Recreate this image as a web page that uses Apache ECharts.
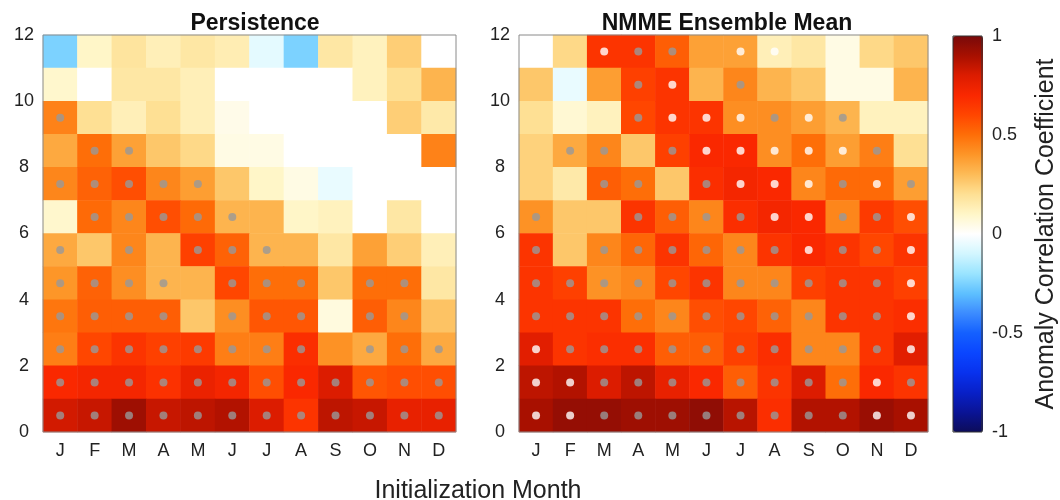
<!DOCTYPE html>
<html>
<head>
<meta charset="utf-8">
<script src="https://cdn.jsdelivr.net/npm/echarts@6/dist/echarts.min.js"></script>
<style>
html,body{margin:0;padding:0;background:#fff;}
#chart{width:1060px;height:500px;}
</style>
</head>
<body>
<div id="chart"></div>
<script>
// Initialization months (x categories)
const months = ['J','F','M','A','M','J','J','A','S','O','N','D'];
// Lead rows (y), 0..11 ; tick labels on the lead axis
const leadTicks = [0, 2, 4, 6, 8, 10, 12];
const colorbarTicks = [-1, -0.5, 0, 0.5, 1];

// Persistence ACC, rows listed from lead 11 (top) down to lead 0 (bottom)
const persistenceRows = [
  [-0.25, 0.10, 0.18, 0.13, 0.17, 0.14, -0.06, -0.25, 0.17, 0.12, 0.25, 0.00],
  [ 0.09, 0.00, 0.17, 0.17, 0.13, 0.00,  0.00,  0.00, 0.00, 0.12, 0.20, 0.32],
  [ 0.45, 0.20, 0.13, 0.20, 0.13, 0.04,  0.00,  0.00, 0.00, 0.00, 0.25, 0.16],
  [ 0.35, 0.50, 0.37, 0.27, 0.22, 0.05,  0.05,  0.00, 0.00, 0.00, 0.00, 0.45],
  [ 0.44, 0.53, 0.58, 0.44, 0.38, 0.27,  0.10,  0.05,-0.05, 0.00, 0.00, 0.00],
  [ 0.09, 0.51, 0.44, 0.58, 0.51, 0.32,  0.32,  0.10, 0.12, 0.00, 0.17, 0.00],
  [ 0.35, 0.27, 0.44, 0.32, 0.62, 0.53,  0.32,  0.32, 0.17, 0.37, 0.25, 0.13],
  [ 0.40, 0.53, 0.42, 0.32, 0.32, 0.60,  0.50,  0.50, 0.27, 0.50, 0.50, 0.17],
  [ 0.48, 0.54, 0.54, 0.54, 0.27, 0.42,  0.56,  0.56, 0.06, 0.54, 0.44, 0.28],
  [ 0.46, 0.60, 0.66, 0.62, 0.64, 0.46,  0.46,  0.68, 0.41, 0.35, 0.50, 0.35],
  [ 0.70, 0.72, 0.72, 0.67, 0.75, 0.72,  0.58,  0.70, 0.80, 0.56, 0.58, 0.58],
  [ 0.82, 0.84, 0.92, 0.84, 0.86, 0.88,  0.80,  0.66, 0.86, 0.84, 0.76, 0.76]
];
// Significance markers: g = gray dot, w = white dot, . = none (lead 11 -> 0)
const persistenceDots = [
  '............',
  '............',
  'g...........',
  '.gg.........',
  'ggggg.......',
  '.ggggg......',
  'g.g.ggg.....',
  'gggg.ggg.gg.',
  'gggg.ggg.gg.',
  'gggggggg.ggg',
  'gggggggggggg',
  'gggggggggggg'
];

// NMME ensemble mean ACC, rows from lead 11 (top) down to lead 0
const nmmeRows = [
  [0.00, 0.22, 0.66, 0.66, 0.54, 0.37, 0.37, 0.13, 0.17, 0.05, 0.22, 0.27],
  [0.27,-0.05, 0.38, 0.62, 0.66, 0.32, 0.44, 0.32, 0.27, 0.05, 0.05, 0.32],
  [0.20, 0.08, 0.12, 0.60, 0.66, 0.66, 0.42, 0.42, 0.38, 0.32, 0.12, 0.12],
  [0.24, 0.35, 0.44, 0.27, 0.62, 0.70, 0.70, 0.42, 0.50, 0.38, 0.46, 0.20],
  [0.24, 0.16, 0.54, 0.50, 0.27, 0.68, 0.72, 0.70, 0.44, 0.51, 0.51, 0.38],
  [0.41, 0.27, 0.27, 0.66, 0.54, 0.44, 0.68, 0.72, 0.70, 0.44, 0.64, 0.58],
  [0.66, 0.27, 0.44, 0.52, 0.66, 0.52, 0.44, 0.66, 0.70, 0.66, 0.60, 0.66],
  [0.66, 0.62, 0.41, 0.44, 0.60, 0.66, 0.44, 0.44, 0.62, 0.66, 0.66, 0.62],
  [0.66, 0.66, 0.66, 0.50, 0.44, 0.58, 0.60, 0.53, 0.44, 0.66, 0.66, 0.68],
  [0.78, 0.66, 0.68, 0.68, 0.54, 0.54, 0.62, 0.68, 0.44, 0.44, 0.66, 0.78],
  [0.86, 0.88, 0.80, 0.86, 0.76, 0.70, 0.54, 0.66, 0.80, 0.50, 0.70, 0.66],
  [0.90, 0.94, 0.94, 0.92, 0.92, 0.95, 0.87, 0.68, 0.88, 0.88, 0.93, 0.90]
];
const nmmeDots = [
  '..wgg.ww....',
  '...gw.g.....',
  '...gwwwgwg..',
  '.gg.gwwwwwg.',
  '..gg.gwwwgwg',
  'g..ggggwwggw',
  'g.ggggggwggw',
  'gggggggggggw',
  'gggggggggggw',
  'wggggggggggw',
  'wwggggggggwg',
  'wwggggggggww'
];

const leadCats = Array.from({length: 12}, (_, i) => String(i));

function toCells(rows) {
  const out = [];
  rows.forEach((r, i) => {
    const lead = rows.length - 1 - i;
    r.forEach((v, c) => out.push([c, lead, v]));
  });
  return out;
}
function toDots(rows, ch) {
  const out = [];
  rows.forEach((s, i) => {
    const lead = rows.length - 1 - i;
    for (let c = 0; c < s.length; c++) if (s[c] === ch) out.push([c, lead]);
  });
  return out;
}

const FONT = '"Liberation Sans", Arial, Helvetica, sans-serif';
const txt = '#222';

const catX = (gi) => ({
  type: 'category', gridIndex: gi, data: months,
  axisLine: {show: false}, axisTick: {show: false}, splitLine: {show: false},
  axisLabel: {fontSize: 18, color: txt, fontFamily: FONT, margin: 10}
});
const catY = (gi) => ({
  type: 'category', gridIndex: gi, data: leadCats, show: false
});
const valY = (gi) => ({
  type: 'value', gridIndex: gi, min: 0, max: 12, interval: 2, position: 'left',
  axisLine: {show: false}, axisTick: {show: false}, splitLine: {show: false},
  axisLabel: {fontSize: 18, color: txt, fontFamily: FONT, margin: 19, align: 'center',
    formatter: (v) => leadTicks.indexOf(v) >= 0 ? String(v) : ''}
});

const gridStyle = {show: true, z: 10, backgroundColor: 'transparent', borderColor: '#8a8a8a', borderWidth: 1};

const option = {
  animation: false,
  backgroundColor: '#fff',
  textStyle: {fontFamily: FONT},
  title: [
    {text: 'Persistence', left: 250, top: 7, textAlign: 'center',
     textStyle: {fontSize: 23, fontWeight: 'bold', color: '#111', fontFamily: FONT}},
    {text: 'NMME Ensemble Mean', left: 722, top: 7, textAlign: 'center',
     textStyle: {fontSize: 23, fontWeight: 'bold', color: '#111', fontFamily: FONT}},
    {text: 'Initialization Month', left: 473, top: 474, textAlign: 'center',
     textStyle: {fontSize: 25, fontWeight: 'normal', color: txt, fontFamily: FONT}}
  ],
  grid: [
    Object.assign({left: 43, top: 35, width: 413, height: 397}, gridStyle),
    Object.assign({left: 519, top: 35, width: 409, height: 397}, gridStyle),
    Object.assign({left: 953, top: 36, width: 30, height: 396}, gridStyle, {borderColor: '#333'})
  ],
  xAxis: [
    catX(0), catX(1),
    {type: 'value', gridIndex: 2, min: 0, max: 1, show: false}
  ],
  yAxis: [
    catY(0), valY(0), catY(1), valY(1),
    {type: 'value', gridIndex: 2, min: -1, max: 1, interval: 0.5, position: 'right',
     axisLine: {show: false}, splitLine: {show: false},
     axisTick: {show: false},
     axisLabel: {fontSize: 18, color: txt, fontFamily: FONT, margin: 10,
       formatter: (v) => colorbarTicks.indexOf(v) >= 0 ? String(v) : ''},
     name: 'Anomaly Correlation Coefficient', nameLocation: 'middle', nameRotate: 90, nameGap: 52,
     nameTextStyle: {fontSize: 25, color: txt, fontFamily: FONT}}
  ],
  visualMap: {
    type: 'continuous', min: -1, max: 1, seriesIndex: [0, 1], dimension: 2,
    calculable: false, left: 953, top: 36, itemWidth: 30, itemHeight: 396,
    padding: 0, text: null, showLabel: false, hoverLink: false,
    inRange: {color: [
      '#0c0c5a', '#0a1496', '#0820c8', '#0832ee', '#0a46ff', '#1460ff',
      '#3c8cff', '#5ec0ff', '#9ae4ff', '#d2f6ff', '#ffffff',
      '#fff6c8', '#fee094', '#fdbc58', '#fd9628', '#fe6e08',
      '#ff4600', '#fa2800', '#dc1c00', '#a81000', '#780a0a'
    ]}
  },
  series: [
    {type: 'heatmap', xAxisIndex: 0, yAxisIndex: 0, data: toCells(persistenceRows), silent: true,
     emphasis: {disabled: true}},
    {type: 'heatmap', xAxisIndex: 1, yAxisIndex: 2, data: toCells(nmmeRows), silent: true,
     emphasis: {disabled: true}},
    {type: 'scatter', xAxisIndex: 0, yAxisIndex: 0, data: toDots(persistenceDots, 'g'),
     symbolSize: 8, itemStyle: {color: '#999999'}, silent: true, z: 5},
    {type: 'scatter', xAxisIndex: 0, yAxisIndex: 0, data: toDots(persistenceDots, 'w'),
     symbolSize: 8, itemStyle: {color: '#ffffff'}, silent: true, z: 5},
    {type: 'scatter', xAxisIndex: 1, yAxisIndex: 2, data: toDots(nmmeDots, 'g'),
     symbolSize: 8, itemStyle: {color: '#999999'}, silent: true, z: 5},
    {type: 'scatter', xAxisIndex: 1, yAxisIndex: 2, data: toDots(nmmeDots, 'w'),
     symbolSize: 8, itemStyle: {color: '#ffffff'}, silent: true, z: 5}
  ]
};

const chart = echarts.init(document.getElementById('chart'), null, {renderer: 'canvas'});
chart.setOption(option);
</script>
</body>
</html>
